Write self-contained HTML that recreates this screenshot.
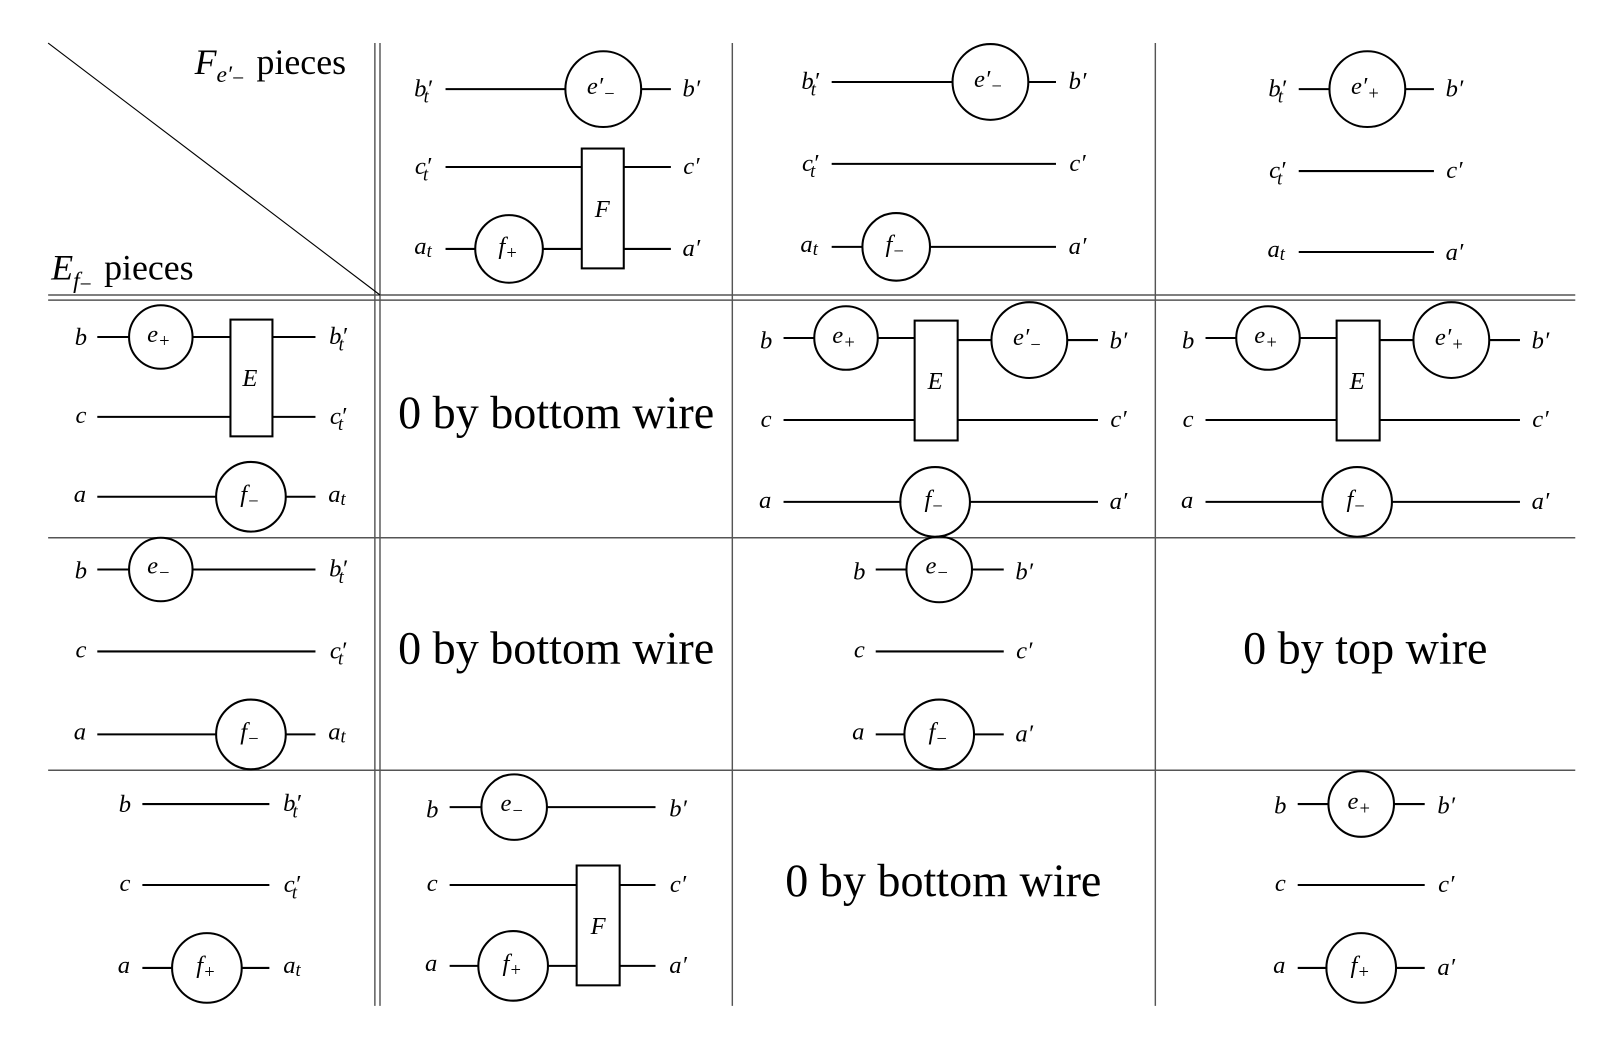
<!DOCTYPE html>
<html><head><meta charset="utf-8"><style>
html,body{margin:0;padding:0;background:#fff;}
svg{display:block;}
.l{font-family:"Liberation Serif",serif;font-style:italic;font-size:24px;text-anchor:middle;fill:#000;}
.l .s{font-size:18px;}
.big{font-family:"Liberation Serif",serif;font-size:45px;text-anchor:middle;fill:#000;}
.hd{font-family:"Liberation Serif",serif;font-size:35px;fill:#000;}
.w{stroke:#000;stroke-width:2;fill:none;}
.g{stroke:#555;stroke-width:1.4;fill:none;}
</style></head><body>
<svg width="1606" height="1050" viewBox="0 0 1568 1025.1" xmlns="http://www.w3.org/2000/svg">
<g class="g">
<line x1="366" y1="42" x2="366" y2="982"/><line x1="371" y1="42" x2="371" y2="982"/>
<line x1="715" y1="42" x2="715" y2="982"/><line x1="1128" y1="42" x2="1128" y2="982"/>
<line x1="47" y1="288" x2="1538" y2="288"/><line x1="47" y1="293" x2="1538" y2="293"/>
<line x1="47" y1="525" x2="1538" y2="525"/><line x1="47" y1="752" x2="1538" y2="752"/>
<line x1="47" y1="42" x2="371" y2="288" stroke-width="1.1" stroke="#000"/>
</g>
<text class="hd" x="190" y="72"><tspan font-style="italic">F</tspan><tspan font-style="italic" font-size="23" dy="8">e′</tspan><tspan font-size="21" dy="3">−</tspan><tspan dx="12" dy="-11">pieces</tspan></text>
<text class="hd" x="50" y="273"><tspan font-style="italic">E</tspan><tspan font-style="italic" font-size="23" dy="8">f</tspan><tspan font-size="21" dy="3">−</tspan><tspan dx="12" dy="-11">pieces</tspan></text>

<g class="w">
<line x1="435" y1="87" x2="552" y2="87"/><circle cx="589" cy="87" r="37"/><line x1="626" y1="87" x2="655" y2="87"/>
<line x1="435" y1="163" x2="568" y2="163"/><rect x="568" y="145" width="41" height="117"/><line x1="609" y1="163" x2="655" y2="163"/>
<line x1="435" y1="243" x2="464" y2="243"/><circle cx="497" cy="243" r="33"/><line x1="530" y1="243" x2="568" y2="243"/><line x1="609" y1="243" x2="655" y2="243"/>
<line x1="812" y1="80" x2="930" y2="80"/><circle cx="967" cy="80" r="37"/><line x1="1004" y1="80" x2="1031" y2="80"/>
<line x1="812" y1="160" x2="1031" y2="160"/>
<line x1="812" y1="241" x2="842" y2="241"/><circle cx="875" cy="241" r="33"/><line x1="908" y1="241" x2="1031" y2="241"/>
<line x1="1268" y1="87" x2="1298" y2="87"/><circle cx="1335" cy="87" r="37"/><line x1="1372" y1="87" x2="1400" y2="87"/>
<line x1="1268" y1="167" x2="1400" y2="167"/>
<line x1="1268" y1="246" x2="1400" y2="246"/>
<line x1="95" y1="329" x2="126" y2="329"/><circle cx="157" cy="329" r="31"/><line x1="188" y1="329" x2="225" y2="329"/><rect x="225" y="312" width="41" height="114"/><line x1="266" y1="329" x2="308" y2="329"/>
<line x1="95" y1="407" x2="225" y2="407"/><line x1="266" y1="407" x2="308" y2="407"/>
<line x1="95" y1="485" x2="211" y2="485"/><circle cx="245" cy="485" r="34"/><line x1="279" y1="485" x2="308" y2="485"/>
<line x1="765" y1="330" x2="795" y2="330"/><circle cx="826" cy="330" r="31"/><line x1="857" y1="330" x2="893" y2="330"/><rect x="893" y="313" width="42" height="117"/><line x1="935" y1="332" x2="968" y2="332"/><circle cx="1005" cy="332" r="37"/><line x1="1042" y1="332" x2="1072" y2="332"/>
<line x1="765" y1="410" x2="893" y2="410"/><line x1="935" y1="410" x2="1072" y2="410"/>
<line x1="765" y1="490" x2="880" y2="490"/><circle cx="913" cy="490" r="34"/><line x1="947" y1="490" x2="1072" y2="490"/>
<line x1="1177" y1="330" x2="1207" y2="330"/><circle cx="1238" cy="330" r="31"/><line x1="1269" y1="330" x2="1305" y2="330"/><rect x="1305" y="313" width="42" height="117"/><line x1="1347" y1="332" x2="1380" y2="332"/><circle cx="1417" cy="332" r="37"/><line x1="1454" y1="332" x2="1484" y2="332"/>
<line x1="1177" y1="410" x2="1305" y2="410"/><line x1="1347" y1="410" x2="1484" y2="410"/>
<line x1="1177" y1="490" x2="1292" y2="490"/><circle cx="1325" cy="490" r="34"/><line x1="1359" y1="490" x2="1484" y2="490"/>
<line x1="95" y1="556" x2="126" y2="556"/><circle cx="157" cy="556" r="31"/><line x1="188" y1="556" x2="308" y2="556"/>
<line x1="95" y1="636" x2="308" y2="636"/>
<line x1="95" y1="717" x2="211" y2="717"/><circle cx="245" cy="717" r="34"/><line x1="279" y1="717" x2="308" y2="717"/>
<line x1="855" y1="556" x2="885" y2="556"/><circle cx="917" cy="556" r="32"/><line x1="949" y1="556" x2="980" y2="556"/>
<line x1="855" y1="636" x2="980" y2="636"/>
<line x1="855" y1="717" x2="883" y2="717"/><circle cx="917" cy="717" r="34"/><line x1="951" y1="717" x2="980" y2="717"/>
<line x1="139" y1="785" x2="263" y2="785"/>
<line x1="139" y1="864" x2="263" y2="864"/>
<line x1="139" y1="945" x2="168" y2="945"/><circle cx="202" cy="945" r="34"/><line x1="236" y1="945" x2="263" y2="945"/>
<line x1="439" y1="788" x2="471" y2="788"/><circle cx="502" cy="788" r="32"/><line x1="534" y1="788" x2="640" y2="788"/>
<line x1="439" y1="864" x2="563" y2="864"/><rect x="563" y="845" width="42" height="117"/><line x1="605" y1="864" x2="640" y2="864"/>
<line x1="439" y1="943" x2="467" y2="943"/><circle cx="501" cy="943" r="34"/><line x1="535" y1="943" x2="563" y2="943"/><line x1="605" y1="943" x2="640" y2="943"/>
<line x1="1267" y1="785" x2="1297" y2="785"/><circle cx="1329" cy="785" r="32"/><line x1="1361" y1="785" x2="1391" y2="785"/>
<line x1="1267" y1="864" x2="1391" y2="864"/>
<line x1="1267" y1="945" x2="1296" y2="945"/><circle cx="1329" cy="945" r="34"/><line x1="1363" y1="945" x2="1391" y2="945"/>
</g>

<g>
<text class="l" x="413" y="94">b′<tspan class="s" dx="-8" dy="6">t</tspan></text>
<text class="l" x="675" y="94">b′</text>
<text class="l" x="413" y="170">c′<tspan class="s" dx="-8" dy="6">t</tspan></text>
<text class="l" x="675" y="170">c′</text>
<text class="l" x="413" y="248">a<tspan class="s" dy="3">t</tspan></text>
<text class="l" x="675" y="250">a′</text>
<text class="l" x="587" y="92">e′<tspan class="s" dy="5">−</tspan></text>
<text class="l" x="496" y="248">f<tspan class="s" dy="5">+</tspan></text>
<text class="l" x="588" y="212">F</text>
<text class="l" x="791" y="87">b′<tspan class="s" dx="-8" dy="6">t</tspan></text>
<text class="l" x="1052" y="87">b′</text>
<text class="l" x="791" y="167">c′<tspan class="s" dx="-8" dy="6">t</tspan></text>
<text class="l" x="1052" y="167">c′</text>
<text class="l" x="790" y="246">a<tspan class="s" dy="3">t</tspan></text>
<text class="l" x="1052" y="248">a′</text>
<text class="l" x="965" y="85">e′<tspan class="s" dy="5">−</tspan></text>
<text class="l" x="874" y="246">f<tspan class="s" dy="5">−</tspan></text>
<text class="l" x="1247" y="94">b′<tspan class="s" dx="-8" dy="6">t</tspan></text>
<text class="l" x="1420" y="94">b′</text>
<text class="l" x="1247" y="174">c′<tspan class="s" dx="-8" dy="6">t</tspan></text>
<text class="l" x="1420" y="174">c′</text>
<text class="l" x="1246" y="251">a<tspan class="s" dy="3">t</tspan></text>
<text class="l" x="1420" y="254">a′</text>
<text class="l" x="1333" y="92">e′<tspan class="s" dy="5">+</tspan></text>
<text class="l" x="79" y="337">b</text>
<text class="l" x="330" y="336">b′<tspan class="s" dx="-8" dy="6">t</tspan></text>
<text class="l" x="79" y="413">c</text>
<text class="l" x="330" y="414">c′<tspan class="s" dx="-8" dy="6">t</tspan></text>
<text class="l" x="78" y="490">a</text>
<text class="l" x="329" y="490">a<tspan class="s" dy="3">t</tspan></text>
<text class="l" x="155" y="334">e<tspan class="s" dy="5">+</tspan></text>
<text class="l" x="244" y="377">E</text>
<text class="l" x="244" y="490">f<tspan class="s" dy="5">−</tspan></text>
<text class="l" x="748" y="340">b</text>
<text class="l" x="1092" y="340">b′</text>
<text class="l" x="748" y="417">c</text>
<text class="l" x="1092" y="417">c′</text>
<text class="l" x="747" y="496">a</text>
<text class="l" x="1092" y="497">a′</text>
<text class="l" x="824" y="335">e<tspan class="s" dy="5">+</tspan></text>
<text class="l" x="913" y="380">E</text>
<text class="l" x="1003" y="337">e′<tspan class="s" dy="5">−</tspan></text>
<text class="l" x="912" y="495">f<tspan class="s" dy="5">−</tspan></text>
<text class="l" x="1160" y="340">b</text>
<text class="l" x="1504" y="340">b′</text>
<text class="l" x="1160" y="417">c</text>
<text class="l" x="1504" y="417">c′</text>
<text class="l" x="1159" y="496">a</text>
<text class="l" x="1504" y="497">a′</text>
<text class="l" x="1236" y="335">e<tspan class="s" dy="5">+</tspan></text>
<text class="l" x="1325" y="380">E</text>
<text class="l" x="1415" y="337">e′<tspan class="s" dy="5">+</tspan></text>
<text class="l" x="1324" y="495">f<tspan class="s" dy="5">−</tspan></text>
<text class="l" x="79" y="565">b</text>
<text class="l" x="330" y="563">b′<tspan class="s" dx="-8" dy="6">t</tspan></text>
<text class="l" x="79" y="642">c</text>
<text class="l" x="330" y="643">c′<tspan class="s" dx="-8" dy="6">t</tspan></text>
<text class="l" x="78" y="722">a</text>
<text class="l" x="329" y="722">a<tspan class="s" dy="3">t</tspan></text>
<text class="l" x="155" y="560">e<tspan class="s" dy="5">−</tspan></text>
<text class="l" x="244" y="722">f<tspan class="s" dy="5">−</tspan></text>
<text class="l" x="839" y="566">b</text>
<text class="l" x="1000" y="566">b′</text>
<text class="l" x="839" y="642">c</text>
<text class="l" x="1000" y="643">c′</text>
<text class="l" x="838" y="722">a</text>
<text class="l" x="1000" y="724">a′</text>
<text class="l" x="915" y="560">e<tspan class="s" dy="5">−</tspan></text>
<text class="l" x="916" y="722">f<tspan class="s" dy="5">−</tspan></text>
<text class="l" x="122" y="793">b</text>
<text class="l" x="285" y="792">b′<tspan class="s" dx="-8" dy="6">t</tspan></text>
<text class="l" x="122" y="870">c</text>
<text class="l" x="285" y="871">c′<tspan class="s" dx="-8" dy="6">t</tspan></text>
<text class="l" x="121" y="950">a</text>
<text class="l" x="285" y="950">a<tspan class="s" dy="3">t</tspan></text>
<text class="l" x="201" y="950">f<tspan class="s" dy="5">+</tspan></text>
<text class="l" x="422" y="798">b</text>
<text class="l" x="662" y="797">b′</text>
<text class="l" x="422" y="870">c</text>
<text class="l" x="662" y="871">c′</text>
<text class="l" x="421" y="948">a</text>
<text class="l" x="662" y="950">a′</text>
<text class="l" x="500" y="792">e<tspan class="s" dy="5">−</tspan></text>
<text class="l" x="500" y="948">f<tspan class="s" dy="5">+</tspan></text>
<text class="l" x="584" y="912">F</text>
<text class="l" x="1250" y="794">b</text>
<text class="l" x="1412" y="794">b′</text>
<text class="l" x="1250" y="870">c</text>
<text class="l" x="1412" y="871">c′</text>
<text class="l" x="1249" y="950">a</text>
<text class="l" x="1412" y="952">a′</text>
<text class="l" x="1327" y="790">e<tspan class="s" dy="5">+</tspan></text>
<text class="l" x="1328" y="950">f<tspan class="s" dy="5">+</tspan></text>
</g>

<text class="big" x="543" y="418">0 by bottom wire</text>
<text class="big" x="543" y="648">0 by bottom wire</text>
<text class="big" x="1333" y="648">0 by top wire</text>
<text class="big" x="921" y="875">0 by bottom wire</text>
</svg>
</body></html>
